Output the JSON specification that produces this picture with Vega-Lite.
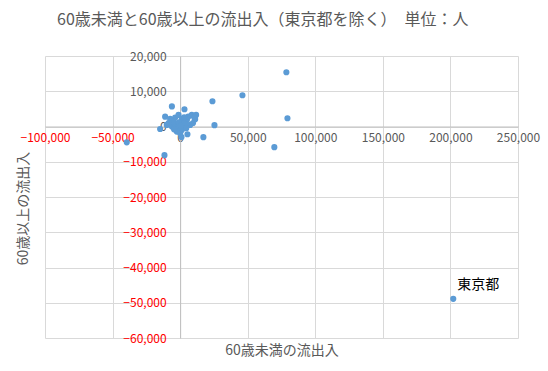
{
  "$schema": "https://vega.github.io/schema/vega-lite/v6.json",
  "autosize": {"type": "none"},
  "width": 473,
  "height": 282,
  "padding": {"left": 45, "top": 56, "right": 30, "bottom": 33},
  "background": "white",
  "title": {
    "text": "60歳未満と60歳以上の流出入（東京都を除く）　単位：人",
    "font": "Noto Sans CJK JP",
    "fontSize": 16,
    "fontWeight": "normal",
    "color": "#595959",
    "anchor": "start",
    "frame": "group",
    "dx": 12,
    "offset": 22
  },
  "config": {
    "view": {"stroke": null},
    "axis": {
      "labelFont": "Noto Sans CJK JP",
      "labelFontSize": 12,
      "titleFont": "Noto Sans CJK JP",
      "titleFontSize": 14,
      "titleFontWeight": "normal",
      "titleColor": "#595959",
      "gridColor": "#d9d9d9",
      "domainColor": "#bfbfbf",
      "ticks": false,
      "labelFlush": false
    }
  },
  "data": {
    "values": [
      {"x": 78600, "y": 15400, "name": ""},
      {"x": 46100, "y": 8870, "name": ""},
      {"x": 23900, "y": 7170, "name": ""},
      {"x": 79400, "y": 2350, "name": ""},
      {"x": 25400, "y": 370, "name": ""},
      {"x": 17200, "y": -3030, "name": ""},
      {"x": 69700, "y": -5860, "name": ""},
      {"x": -39500, "y": -4500, "name": ""},
      {"x": -11600, "y": -8130, "name": ""},
      {"x": -6100, "y": 5700, "name": ""},
      {"x": 3200, "y": 4900, "name": ""},
      {"x": -11100, "y": 2800, "name": ""},
      {"x": -7400, "y": 2150, "name": ""},
      {"x": -3700, "y": 2520, "name": ""},
      {"x": -1200, "y": 3290, "name": ""},
      {"x": 1200, "y": 2150, "name": ""},
      {"x": 5000, "y": 1870, "name": ""},
      {"x": 8600, "y": 3290, "name": ""},
      {"x": 11800, "y": 3290, "name": ""},
      {"x": 11100, "y": 2070, "name": ""},
      {"x": 7400, "y": 450, "name": ""},
      {"x": -14800, "y": -700, "name": ""},
      {"x": -9900, "y": 450, "name": ""},
      {"x": -6100, "y": 0, "name": ""},
      {"x": -3700, "y": 650, "name": ""},
      {"x": 0, "y": 450, "name": ""},
      {"x": -1200, "y": -480, "name": ""},
      {"x": 1200, "y": -960, "name": ""},
      {"x": 2500, "y": 0, "name": ""},
      {"x": 3700, "y": 650, "name": ""},
      {"x": 5400, "y": -2200, "name": ""},
      {"x": -2500, "y": -1440, "name": ""},
      {"x": 0, "y": -1900, "name": ""},
      {"x": -5000, "y": 1390, "name": ""},
      {"x": 2000, "y": 1300, "name": ""},
      {"x": -2000, "y": -300, "name": ""},
      {"x": 4500, "y": -500, "name": ""},
      {"x": 9500, "y": 1000, "name": ""},
      {"x": -8500, "y": 1000, "name": ""},
      {"x": 1000, "y": -3000, "name": ""},
      {"x": 6000, "y": 2800, "name": ""},
      {"x": -4500, "y": -800, "name": ""},
      {"x": 3000, "y": 2600, "name": ""},
      {"x": 10500, "y": 2500, "name": ""},
      {"x": -1000, "y": 1200, "name": ""},
      {"x": 500, "y": 200, "name": ""},
      {"x": 202100, "y": -48900, "name": "東京都"}
    ]
  },
  "encoding": {
    "x": {
      "field": "x",
      "type": "quantitative",
      "scale": {"domain": [-100000, 250000], "nice": false, "zero": false},
      "axis": {
        "title": "60歳未満の流出入",
        "values": [-100000, -50000, 0, 50000, 100000, 150000, 200000, 250000],
        "format": ",.0f",
        "offset": -211.5,
        "labelPadding": 6,
        "labelOverlap": false,
        "labelColor": {"expr": "datum.value < 0 ? '#ff0000' : '#595959'"},
        "titleBaseline": "middle",
        "titleY": 224
      }
    },
    "y": {
      "field": "y",
      "type": "quantitative",
      "scale": {"domain": [-60000, 20000], "nice": false, "zero": false},
      "axis": {
        "title": "60歳以上の流出入",
        "values": [-60000, -50000, -40000, -30000, -20000, -10000, 0, 10000, 20000],
        "format": ",.0f",
        "offset": -135.14,
        "labelPadding": 14,
        "labelOverlap": false,
        "labelColor": {"expr": "datum.value < 0 ? '#ff0000' : '#595959'"},
        "titleBaseline": "middle",
        "titleAlign": "center",
        "titleX": -157,
        "titleY": 152
      }
    }
  },
  "layer": [
    {
      "mark": {"type": "circle", "size": 38, "color": "#5b9bd5", "opacity": 1}
    },
    {
      "transform": [{"filter": "datum.name != ''"}],
      "mark": {"type": "text", "align": "left", "baseline": "middle", "dx": 4, "dy": -14, "font": "Noto Sans CJK JP", "fontSize": 14, "color": "#000000"},
      "encoding": {"text": {"field": "name"}}
    }
  ]
}
